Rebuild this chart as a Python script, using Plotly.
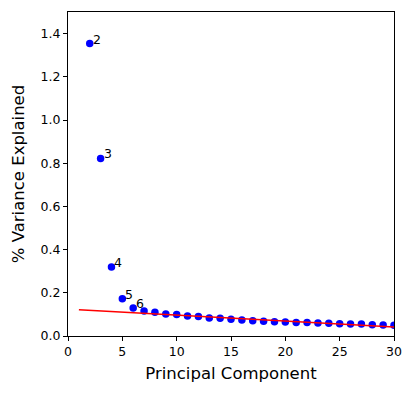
import plotly.graph_objects as go

# explained variance per principal component
components = list(range(2, 31))
variance = [1.354, 0.822, 0.320, 0.173, 0.130, 0.116, 0.110, 0.102, 0.100, 0.093,
            0.090, 0.083, 0.082, 0.077, 0.074, 0.071, 0.068, 0.066, 0.065, 0.063,
            0.062, 0.060, 0.059, 0.057, 0.056, 0.055, 0.052, 0.051, 0.050]

# fitted trend line (red)
fit_x = [1, 30]
fit_y = [0.122, 0.042]

# components that get a number next to them
labelled = [2, 3, 4, 5, 6]

fig = go.Figure()
fig.add_trace(go.Scatter(x=components, y=variance, mode="markers",
                         marker=dict(color="blue", size=7.5)))
# trend line drawn over the points
fig.add_trace(go.Scatter(x=fit_x, y=fit_y, mode="lines",
                         line=dict(color="red", width=1.5), hoverinfo="skip"))

for c in labelled:
    v = variance[components.index(c)]
    fig.add_annotation(x=c, y=v, text=str(c), showarrow=False,
                       xanchor="left", yanchor="bottom", xshift=1, yshift=-5,
                       font=dict(size=12.5, color="black"))

axis_style = dict(showline=True, linecolor="black", linewidth=1, mirror=True,
                  ticks="outside", ticklen=4, tickcolor="black", showgrid=False,
                  zeroline=False, tickfont=dict(size=12.5, color="black"))

fig.update_xaxes(range=[0, 30], tickvals=[0, 5, 10, 15, 20, 25, 30],
                 title=dict(text="Principal Component", font=dict(size=16.5, color="black"),
                            standoff=9),
                 **axis_style)
fig.update_yaxes(range=[0, 1.5], tickvals=[0, 0.2, 0.4, 0.6, 0.8, 1.0, 1.2, 1.4],
                 tickformat=".1f",
                 title=dict(text="% Variance Explained", font=dict(size=16.5, color="black"),
                            standoff=11),
                 **axis_style)

# page body has an 8px margin, so the figure is drawn 8px smaller
fig.update_layout(width=407, height=388, showlegend=False,
                  margin=dict(l=60, r=21, t=4, b=60),
                  plot_bgcolor="white", paper_bgcolor="white",
                  font=dict(family="DejaVu Sans", color="black"))

fig.write_html("out.html")
